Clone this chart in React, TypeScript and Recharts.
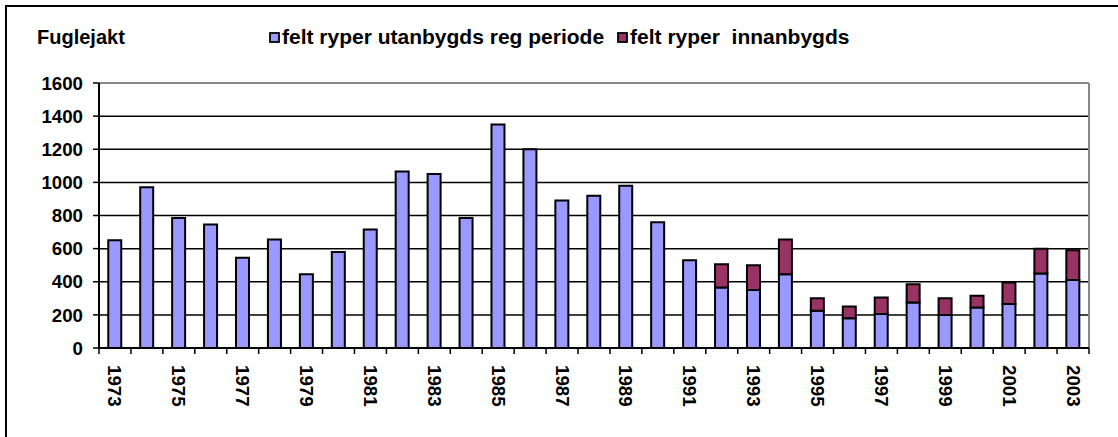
import React from 'react';
import { BarChart, Bar, XAxis, YAxis, CartesianGrid, ReferenceLine, Legend } from 'recharts';

const years = ['1973', '1974', '1975', '1976', '1977', '1978', '1979', '1980', '1981', '1982', '1983', '1984', '1985', '1986', '1987', '1988', '1989', '1990', '1991', '1992', '1993', '1994', '1995', '1996', '1997', '1998', '1999', '2000', '2001', '2002', '2003'];
const utanbygds = [650, 970, 785, 745, 545, 655, 445, 580, 715, 1065, 1050, 785, 1350, 1200, 890, 920, 980, 760, 530, 365, 350, 445, 225, 180, 205, 275, 200, 245, 265, 450, 410];
const innanbygds = [0, 0, 0, 0, 0, 0, 0, 0, 0, 0, 0, 0, 0, 0, 0, 0, 0, 0, 0, 140, 150, 210, 75, 70, 100, 110, 100, 70, 130, 150, 180];
const yTicks = [0, 200, 400, 600, 800, 1000, 1200, 1400, 1600];

const seriesNames = ['felt ryper utanbygds reg periode', 'felt ryper  innanbygds'];
const colors = ['#9999FF', '#993366'];

const data = years.map((year, i) => ({ year, utan: utanbygds[i], inn: innanbygds[i] }));

const W = 1118;
const H = 437;
const margin = { top: 83, right: 29, left: 0, bottom: 0 };
const yAxisWidth = 99;
const band = (W - margin.left - margin.right - yAxisWidth) / years.length;
const font = '"Liberation Sans", Arial, sans-serif';

function YearTick(props: any) {
  const { x, y, payload, index } = props;
  const last = index === years.length - 1;
  return (
    <g>
      <line x1={x - band / 2} x2={x - band / 2} y1={y} y2={y + 6} stroke="#000" strokeWidth={1.5} />
      {last && <line x1={x + band / 2} x2={x + band / 2} y1={y} y2={y + 6} stroke="#000" strokeWidth={1.5} />}
      {index % 2 === 0 && (
        <text x={x} y={y + 17} dy="0.35em" transform={`rotate(90, ${x}, ${y + 17})`} textAnchor="start"
          fontFamily={font} fontWeight="bold" fontSize={18.7} fill="#000">{payload.value}</text>
      )}
    </g>
  );
}

function LegendBox() {
  return (
    <div style={{ display: 'flex', fontFamily: font, fontWeight: 'bold', fontSize: 21, lineHeight: '20px', whiteSpace: 'pre', color: '#000' }}>
      {seriesNames.map((name, i) => (
        <div key={name} style={{ display: 'flex', alignItems: 'center', marginRight: 13, flexShrink: 0 }}>
          <svg width={11} height={11} style={{ flexShrink: 0, marginRight: 2 }}>
            <rect x={1} y={1} width={9} height={9} fill={colors[i]} stroke="#000" strokeWidth={1.8} />
          </svg>
          <span>{name}</span>
        </div>
      ))}
    </div>
  );
}

export default function App() {
  return (
    <div style={{ position: 'absolute', left: 0, top: 0, width: W, height: H, overflow: 'hidden', background: '#fff' }}>
      <div style={{ position: 'absolute', left: 5, top: 5, width: 1300, height: 600, border: '2px solid #000' }} />
      <div style={{ position: 'absolute', left: 37, top: 27, fontFamily: font, fontWeight: 'bold', fontSize: 20, lineHeight: '20px' }}>Fuglejakt</div>
      <div style={{ position: 'absolute', left: 0, top: 0 }}>
        <BarChart width={W} height={H} data={data} margin={margin} barCategoryGap="29%">
          <CartesianGrid vertical={false} stroke="#000" strokeWidth={1.5} />
          <XAxis dataKey="year" interval={0} height={89} tickSize={0} tickMargin={0} tickLine={false}
            axisLine={{ stroke: '#000', strokeWidth: 2 }} tick={<YearTick />} />
          <YAxis domain={[0, 1600]} ticks={yTicks} width={yAxisWidth} tickSize={6} tickMargin={10}
            tickLine={{ stroke: '#000', strokeWidth: 1.5 }} axisLine={{ stroke: '#000', strokeWidth: 2 }}
            tick={{ fill: '#000', fontSize: 18.7, fontWeight: 'bold', fontFamily: font }} />
          <ReferenceLine y={1600} stroke="#888" strokeWidth={2} />
          <ReferenceLine x="2003" position="end" stroke="#888" strokeWidth={2} />
          <Legend verticalAlign="middle" align="center" layout="horizontal" content={<LegendBox />}
            wrapperStyle={{ position: 'absolute', top: 27, left: 269, width: 700, height: 20 }} />
          <Bar dataKey="utan" name={seriesNames[0]} stackId="a" fill={colors[0]} stroke="#000" strokeWidth={2} isAnimationActive={false} />
          <Bar dataKey="inn" name={seriesNames[1]} stackId="a" fill={colors[1]} stroke="#000" strokeWidth={2} isAnimationActive={false} />
        </BarChart>
      </div>
    </div>
  );
}
